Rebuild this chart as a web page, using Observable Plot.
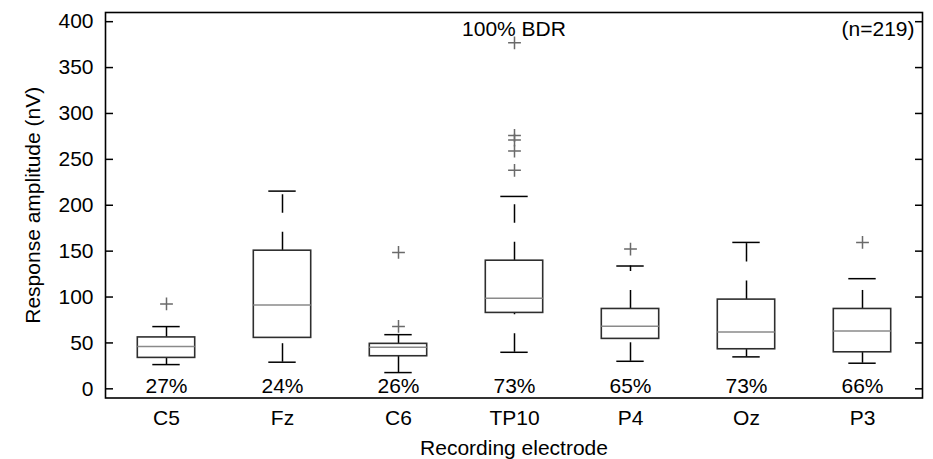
<!DOCTYPE html>
<html>
<head>
<meta charset="utf-8">
<script src="https://cdn.jsdelivr.net/npm/d3@7"></script>
<script src="https://cdn.jsdelivr.net/npm/@observablehq/plot@0.6"></script>
<style>
  html, body { margin: 0; padding: 0; background: #fff; }
</style>
</head>
<body>
<div id="chart"></div>
<script>
const electrodes = ["C5", "Fz", "C6", "TP10", "P4", "Oz", "P3"];
const q1 = [33.7, 55.5, 35.5, 82.7, 54.4, 43.1, 39.8];
const medians = [46, 91.4, 45.3, 98.6, 68.1, 62, 63.1];
const q3 = [56, 150.5, 49, 139.6, 87, 97.2, 87];
const lowerWhisker = [26.4, 29, 17.7, 39.8, 30, 34.8, 27.9];
const upperWhisker = [67.8, 215.4, 59, 209.6, 133.8, 159.5, 120];
const percentLabels = ["27%", "24%", "26%", "73%", "65%", "73%", "66%"];
const outlierElectrode = ["C5", "C6", "C6", "TP10", "TP10", "TP10", "TP10", "TP10", "P4", "P3"];
const outlierValue = [92.5, 148.6, 68, 377, 276, 271, 259, 238, 152.3, 159.5];
const yTicks = [0, 50, 100, 150, 200, 250, 300, 350, 400];
const titleText = "100% BDR";
const nText = "(n=219)";
const xLabel = "Recording electrode";
const yLabel = "Response amplitude (nV)";

const boxes = electrodes.map((e, i) => ({
  electrode: e, q1: q1[i], median: medians[i], q3: q3[i],
  lower: lowerWhisker[i], upper: upperWhisker[i], pct: percentLabels[i]
}));
const outliers = outlierElectrode.map((e, i) => ({electrode: e, value: outlierValue[i]}));

const boxInset = 29.3;
const capInset = 44.3;

const chart = Plot.plot({
  width: 933,
  height: 459,
  marginLeft: 105,
  marginRight: 11,
  marginTop: 12,
  marginBottom: 61.5,
  style: {fontFamily: "'Liberation Sans', Arial, Helvetica, sans-serif", fontSize: "21px", color: "black", background: "white"},
  x: {domain: electrodes, padding: 0, axis: null},
  y: {domain: [-10, 410], axis: null},
  marks: [
    // whiskers (dashed, drawn from lower to upper value)
    Plot.ruleX(boxes, {x: "electrode", y1: "q3", y2: "upper", stroke: "black", strokeWidth: 1.5, strokeDasharray: "18.5,19"}),
    Plot.ruleX(boxes, {x: "electrode", y1: "lower", y2: "q1", stroke: "black", strokeWidth: 1.5, strokeDasharray: "18.5,19"}),
    // whisker caps
    Plot.tickY(boxes, {x: "electrode", y: "upper", stroke: "black", strokeWidth: 1.5, insetLeft: capInset, insetRight: capInset}),
    Plot.tickY(boxes, {x: "electrode", y: "lower", stroke: "black", strokeWidth: 1.5, insetLeft: capInset, insetRight: capInset}),
    // boxes
    Plot.barY(boxes, {x: "electrode", y1: "q1", y2: "q3", fill: "white", stroke: "#2e2e2e", strokeWidth: 1.6, insetLeft: boxInset, insetRight: boxInset}),
    // medians
    Plot.tickY(boxes, {x: "electrode", y: "median", stroke: "#8a8a8a", strokeWidth: 1.5, insetLeft: boxInset, insetRight: boxInset}),
    // outliers
    Plot.dot(outliers, {x: "electrode", y: "value", symbol: "plus", r: 4.2, stroke: "#6a6a6a", strokeWidth: 1.5}),
    // percent labels
    Plot.text(boxes, {x: "electrode", y: () => 0, text: "pct", lineAnchor: "middle", dy: -3, fill: "black"}),
    // frame
    Plot.frame({stroke: "black", strokeWidth: 1.6}),
    // y tick labels
    Plot.axisY({ticks: yTicks, anchor: "left", tickSize: 0, tickPadding: 12, label: null}),
    // inward tick marks left and right
    Plot.axisY({ticks: yTicks, anchor: "left", tickSize: 8, dx: 8, tickFormat: () => "", label: null, strokeWidth: 1.5}),
    Plot.axisY({ticks: yTicks, anchor: "right", tickSize: 8, dx: -8, tickFormat: () => "", label: null, strokeWidth: 1.5}),
    // x tick labels
    Plot.axisX({anchor: "bottom", tickSize: 0, tickPadding: 12, label: null}),
    // axis titles
    Plot.text([xLabel], {frameAnchor: "bottom", text: d => d, lineAnchor: "top", dy: 42}),
    Plot.text([yLabel], {frameAnchor: "left", text: d => d, rotate: -90, lineAnchor: "middle", textAnchor: "middle", dx: -72}),
    // annotations
    Plot.text([titleText], {frameAnchor: "top", text: d => d, lineAnchor: "top", dy: 9}),
    Plot.text([nText], {frameAnchor: "top-right", text: d => d, lineAnchor: "top", textAnchor: "end", dx: -8, dy: 9})
  ]
});
document.getElementById("chart").appendChild(chart);
</script>
</body>
</html>
